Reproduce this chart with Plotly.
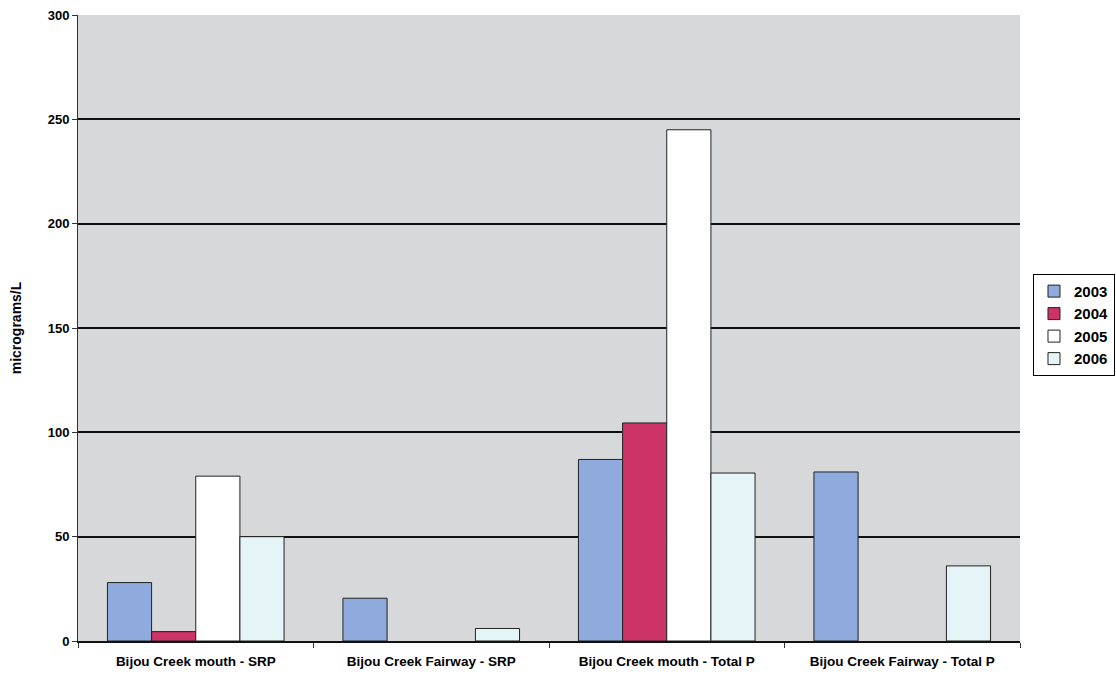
import plotly.graph_objects as go

categories = ["Bijou Creek mouth - SRP", "Bijou Creek Fairway - SRP",
              "Bijou Creek mouth - Total P", "Bijou Creek Fairway - Total P"]
years = ["2003", "2004", "2005", "2006"]
v2003 = [28, 20.5, 87, 81]
v2004 = [4.5, None, 104.5, None]
v2005 = [79, None, 245, None]
v2006 = [50, 6, 80.5, 36]
series = [v2003, v2004, v2005, v2006]
colors = ["#8faadc", "#cc3366", "#ffffff", "#e4f4f7"]
y_ticks = [0, 50, 100, 150, 200, 250, 300]

fig = go.Figure()
for name, vals, col in zip(years, series, colors):
    fig.add_trace(go.Bar(x=categories, y=vals, name=name,
                         marker=dict(color=col, line=dict(color="#222222", width=1))))

font = "Liberation Sans, Arial, sans-serif"
fig.update_layout(
    width=1116, height=681,
    margin=dict(l=78, r=96, t=15, b=40, autoexpand=False),
    paper_bgcolor="white",
    plot_bgcolor="#d6d8da",
    barmode="group", bargap=0.25, bargroupgap=0,
    font=dict(family=font, color="black", size=12),
    legend=dict(x=1.0138, xanchor="left", y=0.505, yanchor="middle",
                bordercolor="black", borderwidth=1, bgcolor="white",
                font=dict(size=15, family=font, weight="bold"),
                tracegroupgap=0, itemwidth=30),
    showlegend=True,
)
fig.update_yaxes(range=[0, 300], tickvals=y_ticks, showgrid=True,
                 gridcolor="#111111", gridwidth=1.5, zeroline=False,
                 showline=True, linecolor="#333333", linewidth=1,
                 ticks="outside", ticklen=5, tickcolor="#333333",
                 tickfont=dict(size=13, family=font, weight="bold"),
                 title=dict(text="micrograms/L", standoff=22,
                            font=dict(size=14, family=font, weight="bold")))
fig.update_xaxes(showline=True, linecolor="#111111", linewidth=1.5,
                 ticks="outside", ticklen=5, tickcolor="#333333",
                 tickson="boundaries", ticklabelstandoff=7,
                 tickfont=dict(size=13.5, family=font, weight="bold"))

fig.write_html("out.html")
